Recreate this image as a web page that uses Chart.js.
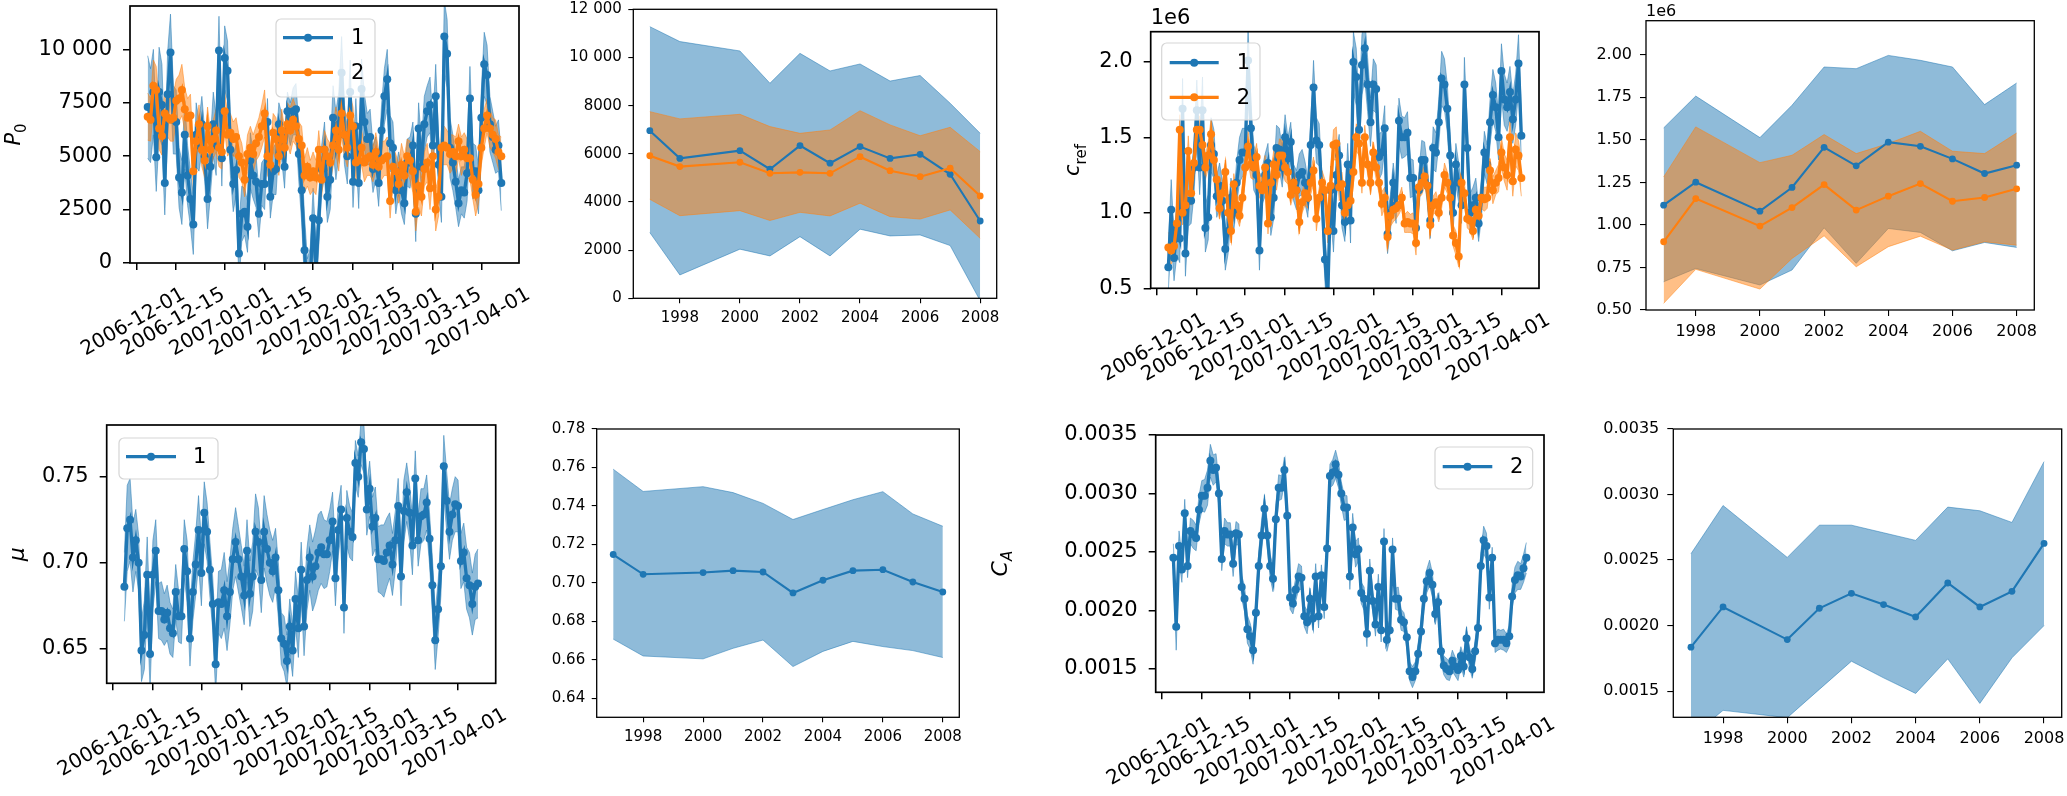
<!DOCTYPE html>
<html><head><meta charset="utf-8">
<script src="https://cdn.jsdelivr.net/npm/chart.js@4.4.1/dist/chart.umd.min.js"></script>
<style>
html,body{margin:0;padding:0;background:#fff;}
body{width:2067px;height:796px;position:relative;overflow:hidden;}
canvas{position:absolute;}
</style></head><body>
<canvas id="c1"></canvas><canvas id="c2"></canvas><canvas id="c3"></canvas><canvas id="c4"></canvas>
<canvas id="c5"></canvas><canvas id="c6"></canvas><canvas id="c7"></canvas><canvas id="c8"></canvas>
<script>
// ---------------- DATA ----------------
const firstDate = '2006-12-05';   // first daily observation
const dateTickLabels = ['2006-12-01','2006-12-15','2007-01-01','2007-01-15','2007-02-01','2007-02-15','2007-03-01','2007-03-15','2007-04-01'];
const years = [1997, 1998, 2000, 2001, 2002, 2003, 2004, 2005, 2006, 2007, 2008];
const yearTicks = [1998, 2000, 2002, 2004, 2006, 2008];

// P0, daily, series 1 and 2
const p0Mean1 = [
7300,6900,8000,4950,8000,7400,3750,7900,9850,6700,
6600,4000,3300,6000,4100,3000,1800,6000,5500,6500,
5000,3000,4500,6500,5500,9950,4900,9600,9000,5300,
3700,4350,450,2300,2400,1700,4800,4100,3800,2300,
3700,3700,6600,3100,4300,4400,6500,5900,4500,7100,
6500,7100,7200,5100,3400,600,-1500,-800,2100,-300,
2000,4400,5300,3100,3900,6800,5500,6500,8900,6000,
5000,8000,3800,6400,3750,8150,6600,5800,5900,4400,
4900,3750,6200,7800,8600,5600,5400,3400,4200,3400,
2800,4700,4700,5500,2300,6300,4500,6500,7100,7400,
5500,7800,4600,3100,10600,9800,5400,4700,3800,2800,
3400,3300,4200,7700,4300,4300,3400,6800,9300,8800,
6500,5900,5300,5500,3750];
const p0Spread1 = [
2400,2200,2000,1600,2100,1900,1500,2000,1800,1600,
1500,1400,1500,1600,1400,1300,1400,1500,1200,1300,
1200,1400,1300,1500,1400,1600,1300,1500,1400,1200,
1300,1200,1400,1300,1100,1200,1300,1100,1200,1100,
1000,1200,1100,1000,1100,1200,1000,1100,1000,900,
1000,1100,1200,1300,1500,1600,1700,1500,1400,1300,
1200,1100,1300,1200,1400,1500,1600,1500,1700,1400,
1300,1500,1200,1300,1200,1400,1300,1200,1300,1100,
1000,1100,1200,1300,1400,1300,1200,1100,1000,1100,
1000,1100,1200,1100,1300,1200,1100,1300,1200,1300,
1200,1500,1300,1200,1700,1600,1400,1300,1200,1100,
1100,1200,1300,1500,1300,1200,1100,1300,1500,1400,
1300,1200,1100,1200,1300];
const p0Mean2 = [
6850,6700,8300,8100,6300,5950,7000,6800,6700,6800,
7600,7700,8100,7200,6800,6900,4300,5700,6500,5300,
4800,6400,5300,5800,6200,5400,5200,7100,6000,6100,
5800,5900,5000,4700,3900,5100,5400,5100,5600,5900,
6400,7000,5000,4600,6100,5800,5000,6200,5400,6500,
6200,6700,6400,5800,5500,4100,4500,4000,4300,4000,
5300,3900,5300,5000,4700,5500,6200,5300,7000,6000,
5400,6900,6400,4700,4800,5400,4700,4900,5000,4600,
5200,4500,4800,4900,5000,2900,4500,4300,3700,4600,
4100,5000,4800,4300,2400,3600,3100,4400,4700,3500,
5000,2500,3100,5400,5500,5400,5100,5200,5000,5700,
5000,5300,4900,4900,3900,3200,3700,5400,6300,6900,
6300,6000,5800,5200,5000];
const p0Spread2 = [
1100,1000,1200,1100,1000,900,1000,900,1000,1100,
1000,1100,1200,1000,900,1000,900,800,900,800,
800,900,800,900,1000,900,800,900,1000,900,
800,900,1000,900,800,900,1000,900,800,900,
1000,1100,900,800,900,1000,900,1000,900,1000,
1100,1000,900,800,900,800,900,800,900,800,
900,800,900,800,900,1000,1100,1000,1100,1000,
900,1000,900,800,900,800,900,800,900,800,
900,800,900,800,900,800,900,800,900,1000,
900,800,900,1000,900,1000,900,800,900,1000,
900,1000,900,800,900,800,900,800,900,800,
900,800,900,1000,900,1000,900,800,900,800,
900,800,900,800,900];

// c_ref (units of 1e6), daily, series 1 and 2
const crefMean1 = [
0.64,1.02,0.70,0.90,0.83,1.69,0.73,1.08,1.08,1.30,
1.68,1.30,1.68,0.90,0.97,1.45,1.39,1.11,1.18,1.08,
0.76,0.88,1.10,1.00,1.20,1.35,1.40,1.40,2.01,1.56,
1.30,1.25,0.75,1.18,1.25,1.33,0.97,1.10,1.43,1.42,
1.30,1.50,1.36,1.47,1.20,1.15,1.25,1.27,1.20,1.10,
1.45,1.83,1.48,1.45,1.10,0.69,0.45,1.15,0.88,1.25,
1.38,1.05,0.94,1.32,0.95,2.00,1.90,1.55,1.98,2.09,
1.85,1.60,1.85,1.82,1.37,1.40,1.56,0.86,1.00,1.20,
1.05,1.61,1.50,1.50,1.53,1.23,1.23,0.90,1.15,1.35,
1.35,1.18,0.95,1.43,1.40,1.60,1.89,1.85,1.69,1.38,
1.00,1.32,1.20,1.05,1.85,1.43,1.00,1.05,1.10,0.93,
1.10,1.40,1.32,1.60,1.78,1.70,1.50,1.94,1.75,1.70,
1.80,1.62,1.75,1.99,1.51];
const crefSpread1 = [
0.15,0.20,0.15,0.18,0.16,0.20,0.15,0.17,0.15,0.18,
0.20,0.18,0.22,0.16,0.15,0.18,0.16,0.14,0.15,0.13,
0.14,0.15,0.13,0.12,0.14,0.15,0.16,0.16,0.22,0.17,
0.15,0.14,0.13,0.12,0.14,0.13,0.12,0.14,0.15,0.14,
0.13,0.15,0.14,0.13,0.12,0.13,0.14,0.15,0.14,0.13,
0.14,0.18,0.15,0.14,0.13,0.15,0.18,0.16,0.14,0.15,
0.14,0.15,0.13,0.14,0.15,0.20,0.19,0.17,0.20,0.21,
0.18,0.16,0.17,0.16,0.15,0.14,0.15,0.13,0.12,0.13,
0.12,0.15,0.14,0.13,0.14,0.13,0.12,0.13,0.12,0.13,
0.12,0.13,0.12,0.14,0.13,0.15,0.18,0.17,0.16,0.14,
0.13,0.14,0.13,0.12,0.18,0.15,0.13,0.12,0.13,0.12,
0.13,0.14,0.13,0.15,0.17,0.16,0.15,0.18,0.17,0.16,
0.17,0.16,0.17,0.19,0.16];
const crefMean2 = [
0.77,0.75,0.78,0.93,1.55,1.00,1.05,1.41,1.13,1.33,
1.55,1.55,1.45,1.30,1.38,1.52,1.35,1.22,1.03,1.13,
1.27,1.00,0.88,1.19,1.05,0.98,1.10,1.30,1.44,1.32,
1.30,1.37,1.18,1.15,1.30,0.93,1.20,1.32,1.25,1.38,
1.38,1.30,1.27,1.12,1.20,1.15,0.94,1.07,1.13,1.10,
1.20,1.28,0.96,1.10,1.20,1.15,0.88,1.18,1.45,1.46,
1.17,1.19,1.00,1.05,1.08,1.27,1.50,1.46,1.20,1.50,
1.32,1.20,1.40,1.30,1.20,1.06,1.10,0.84,0.98,1.02,
1.03,1.05,1.10,0.93,0.94,0.93,0.93,0.80,1.17,1.20,
1.24,1.18,0.92,1.05,1.07,1.00,1.10,1.25,1.20,1.10,
0.85,0.80,0.71,1.20,1.13,0.96,0.95,0.88,1.02,0.98,
1.10,1.09,1.10,1.28,1.15,1.20,1.23,1.40,1.30,1.25,
1.50,1.21,1.42,1.38,1.23];
const crefSpread2 = [
0.10,0.09,0.08,0.09,0.10,0.08,0.09,0.10,0.08,0.09,
0.10,0.09,0.10,0.08,0.09,0.10,0.09,0.08,0.07,0.08,
0.08,0.07,0.08,0.07,0.08,0.07,0.08,0.09,0.10,0.09,
0.08,0.09,0.08,0.07,0.08,0.07,0.08,0.09,0.10,0.11,
0.10,0.09,0.08,0.07,0.08,0.07,0.08,0.07,0.08,0.07,
0.08,0.09,0.08,0.07,0.08,0.07,0.08,0.09,0.10,0.11,
0.09,0.08,0.07,0.08,0.07,0.08,0.09,0.08,0.07,0.08,
0.07,0.08,0.07,0.08,0.07,0.08,0.07,0.08,0.07,0.08,
0.07,0.06,0.07,0.06,0.07,0.06,0.07,0.08,0.07,0.08,
0.07,0.08,0.07,0.06,0.07,0.06,0.07,0.08,0.07,0.08,
0.07,0.08,0.07,0.08,0.07,0.06,0.07,0.06,0.07,0.06,
0.07,0.08,0.07,0.08,0.09,0.08,0.09,0.10,0.09,0.10,
0.11,0.10,0.11,0.10,0.12];

// mu, daily, series 1
const muMean = [
0.686,0.720,0.725,0.703,0.713,0.700,0.649,0.658,0.693,0.647,
0.693,0.707,0.672,0.672,0.667,0.671,0.662,0.659,0.683,0.669,
0.669,0.708,0.695,0.656,0.683,0.699,0.719,0.694,0.729,0.718,
0.696,0.676,0.641,0.677,0.676,0.684,0.669,0.683,0.702,0.712,
0.702,0.692,0.681,0.707,0.682,0.692,0.718,0.712,0.690,0.718,
0.708,0.700,0.695,0.703,0.684,0.656,0.653,0.643,0.663,0.649,
0.679,0.662,0.696,0.663,0.690,0.703,0.692,0.698,0.706,0.709,
0.705,0.705,0.713,0.724,0.691,0.719,0.731,0.674,0.726,0.718,
0.715,0.758,0.750,0.770,0.766,0.731,0.743,0.721,0.726,0.702,
0.702,0.701,0.706,0.710,0.699,0.713,0.733,0.692,0.730,0.741,
0.729,0.710,0.749,0.713,0.727,0.728,0.735,0.714,0.687,0.655,
0.673,0.698,0.756,0.736,0.718,0.728,0.734,0.733,0.701,0.706,
0.691,0.687,0.676,0.686,0.688];
const muSpread = [
0.020,0.025,0.024,0.020,0.018,0.016,0.018,0.020,0.022,0.020,
0.020,0.018,0.016,0.017,0.015,0.016,0.015,0.014,0.016,0.015,
0.016,0.017,0.018,0.016,0.017,0.018,0.020,0.019,0.018,0.017,
0.016,0.015,0.017,0.018,0.020,0.022,0.020,0.019,0.018,0.020,
0.019,0.018,0.017,0.018,0.019,0.020,0.022,0.020,0.019,0.021,
0.020,0.019,0.018,0.017,0.016,0.015,0.016,0.015,0.016,0.015,
0.016,0.017,0.016,0.017,0.018,0.019,0.020,0.021,0.022,0.021,
0.020,0.019,0.018,0.017,0.016,0.015,0.014,0.015,0.016,0.015,
0.014,0.013,0.012,0.013,0.014,0.015,0.016,0.017,0.018,0.019,
0.020,0.021,0.020,0.019,0.018,0.017,0.016,0.017,0.018,0.017,
0.016,0.017,0.016,0.015,0.016,0.015,0.016,0.015,0.016,0.017,
0.016,0.017,0.018,0.017,0.016,0.015,0.016,0.015,0.016,0.017,
0.018,0.019,0.018,0.019,0.020];

// C_A, daily, series 2
const caMean = [
0.00245,0.00186,0.00255,0.00235,0.00283,0.00238,0.00268,0.00265,0.00262,0.00286,
0.00298,0.00298,0.00305,0.00328,0.00320,0.00322,0.00300,0.00244,0.00268,0.00265,
0.00265,0.00240,0.00266,0.00265,0.00220,0.00210,0.00184,0.00178,0.00166,0.00198,
0.00238,0.00264,0.00287,0.00264,0.00238,0.00227,0.00278,0.00305,0.00305,0.00320,
0.00281,0.00211,0.00206,0.00218,0.00229,0.00228,0.00195,0.00190,0.00210,0.00193,
0.00229,0.00195,0.00230,0.00203,0.00253,0.00315,0.00318,0.00325,0.00316,0.00300,
0.00288,0.00288,0.00229,0.00271,0.00248,0.00252,0.00215,0.00210,0.00180,0.00234,
0.00208,0.00188,0.00220,0.00183,0.00259,0.00175,0.00183,0.00252,0.00210,0.00210,
0.00192,0.00190,0.00177,0.00148,0.00143,0.00148,0.00163,0.00182,0.00210,0.00225,
0.00232,0.00222,0.00197,0.00207,0.00165,0.00153,0.00150,0.00148,0.00157,0.00152,
0.00149,0.00161,0.00152,0.00176,0.00160,0.00150,0.00165,0.00185,0.00238,0.00260,
0.00255,0.00211,0.00245,0.00172,0.00175,0.00175,0.00175,0.00172,0.00178,0.00212,
0.00226,0.00230,0.00229,0.00236,0.00245];
const caSpread = [
0.00012,0.00020,0.00013,0.00011,0.00012,0.00010,0.00011,0.00012,0.00011,0.00012,
0.00013,0.00014,0.00015,0.00014,0.00013,0.00012,0.00011,0.00010,0.00011,0.00010,
0.00010,0.00011,0.00010,0.00009,0.00010,0.00011,0.00012,0.00011,0.00012,0.00011,
0.00012,0.00013,0.00012,0.00011,0.00010,0.00011,0.00012,0.00011,0.00010,0.00011,
0.00012,0.00010,0.00009,0.00010,0.00011,0.00010,0.00009,0.00010,0.00009,0.00010,
0.00011,0.00010,0.00009,0.00010,0.00011,0.00010,0.00011,0.00012,0.00011,0.00010,
0.00011,0.00010,0.00011,0.00012,0.00011,0.00010,0.00009,0.00010,0.00011,0.00010,
0.00009,0.00010,0.00011,0.00010,0.00011,0.00010,0.00009,0.00010,0.00009,0.00010,
0.00009,0.00008,0.00009,0.00008,0.00009,0.00008,0.00009,0.00010,0.00011,0.00010,
0.00011,0.00010,0.00009,0.00008,0.00009,0.00008,0.00009,0.00008,0.00009,0.00008,
0.00009,0.00008,0.00009,0.00010,0.00009,0.00008,0.00009,0.00010,0.00011,0.00012,
0.00011,0.00010,0.00009,0.00008,0.00009,0.00008,0.00009,0.00008,0.00009,0.00010,
0.00011,0.00012,0.00011,0.00012,0.00013];

// yearly summaries
const p0YearMean1 = [6960,5810,6130,5360,6340,5610,6300,5810,5980,5150,3210];
const p0YearHi1   = [11280,10660,10270,8930,10170,9440,9730,9020,9250,8100,6850];
const p0YearLo1   = [2730,970,2040,1760,2560,1760,2870,2590,2630,2190,-100];
const p0YearMean2 = [5920,5470,5650,5190,5230,5190,5880,5300,5050,5400,4250];
const p0YearHi2   = [7750,7450,7640,7130,6850,6990,7790,7200,6750,7100,6090];
const p0YearLo2   = [4110,3430,3640,3230,3570,3420,3950,3390,3290,3670,2490];

const crefYearMean1 = [1.116,1.251,1.081,1.220,1.456,1.347,1.486,1.462,1.388,1.302,1.351];
const crefYearHi1   = [1.570,1.757,1.513,1.703,1.928,1.918,1.996,1.967,1.928,1.707,1.834];
const crefYearLo1   = [0.666,0.744,0.647,0.735,0.983,0.774,0.979,0.956,0.848,0.897,0.868];
const crefYearMean2 = [0.901,1.155,0.993,1.102,1.237,1.087,1.169,1.243,1.139,1.161,1.212];
const crefYearHi2   = [1.282,1.576,1.366,1.409,1.531,1.419,1.478,1.550,1.433,1.419,1.540];
const crefYearLo2   = [0.539,0.739,0.623,0.803,0.936,0.754,0.872,0.934,0.852,0.901,0.881];

const muYearMean = [0.7147,0.7044,0.7053,0.7063,0.7056,0.6947,0.7013,0.7063,0.7068,0.7004,0.6952];
const muYearHi   = [0.7591,0.7475,0.7500,0.7469,0.7413,0.7329,0.7381,0.7432,0.7474,0.7358,0.7294];
const muYearLo   = [0.6707,0.6619,0.6604,0.6659,0.6702,0.6564,0.6643,0.6695,0.6668,0.6647,0.6611];

const caYearMean = [0.001835,0.002142,0.001893,0.002132,0.002246,0.002160,0.002066,0.002325,0.002142,0.002261,0.002627];
const caYearHi   = [0.002548,0.002916,0.002520,0.002766,0.002766,0.002708,0.002650,0.002904,0.002876,0.002787,0.003251];
const caYearLo   = [0.00115,0.001353,0.001297,0.001513,0.001728,0.001601,0.001482,0.001746,0.001406,0.001754,0.002000];

// y tick values
const p0DailyYTicks = [0, 2500, 5000, 7500, 10000];
const p0YearYTicks = [0, 2000, 4000, 6000, 8000, 10000, 12000];
const crefDailyYTicks = [0.5, 1.0, 1.5, 2.0];
const crefYearYTicks = [0.5, 0.75, 1.0, 1.25, 1.5, 1.75, 2.0];
const muDailyYTicks = [0.65, 0.70, 0.75];
const muYearYTicks = [0.64, 0.66, 0.68, 0.70, 0.72, 0.74, 0.76, 0.78];
const caYTicks = [0.0015, 0.0020, 0.0025, 0.0030, 0.0035];

// ---------------- BUILD ----------------
const FONT = "'DejaVu Sans', sans-serif";
const BLUE = '#1f77b4', ORANGE = '#ff7f0e';
const BLUE_BAND = 'rgba(31,119,180,0.5)', ORANGE_BAND = 'rgba(255,127,14,0.5)';

const refDay = Date.UTC(2006, 11, 1);
function dayOf(s) { const [y, m, d] = s.split('-').map(Number); return (Date.UTC(y, m - 1, d) - refDay) / 86400000; }
const day0 = dayOf(firstDate);
const tsDays = p0Mean1.map((_, i) => day0 + i);
const dateTickDays = dateTickLabels.map(dayOf);

const sub = (a, b) => a.map((v, i) => v - b[i]);
const add = (a, b) => a.map((v, i) => v + b[i]);
function tsSeries(mean, spread, color, band, label) {
  return { x: tsDays, mean, lo: sub(mean, spread), hi: add(mean, spread), color, band, label };
}
function yrSeries(mean, lo, hi, color, band, label) {
  return { x: years, mean, lo, hi, color, band, label };
}
function thousands(v) { const s = String(Math.round(v)); return s.length > 4 ? s.slice(0, s.length - 3) + ' ' + s.slice(-3) : s; }

const BIG = { tick: 21, xtick: 20, tickLen: 7, tickPad: 11, tickW: 1.5, frame: 1.7, line: 3.3, radius: 4.0, xGap: 22 };
const SM15 = { tick: 15, tickLen: 5, tickPad: 6.5, tickW: 1.1, frame: 1.3, line: 2.1, radius: 3.4 };
const SM16 = { tick: 16, tickLen: 6, tickPad: 8, tickW: 1.1, frame: 1.3, line: 2.1, radius: 3.4 };
const TS_X = [-2.2, 134.2], YR_X = [1996.45, 2008.55];

const panels = [
  { id: 'c1', rect: { x: 0, y: 0, w: 575, h: 400 }, area: { l: 130, t: 6, r: 519, b: 263 }, kind: 'ts', style: BIG,
    yMin: 0, yMax: 12030, yTicks: p0DailyYTicks, yFmt: thousands,
    series: [tsSeries(p0Mean1, p0Spread1, BLUE, BLUE_BAND, '1'), tsSeries(p0Mean2, p0Spread2, ORANGE, ORANGE_BAND, '2')],
    ytitle: { parts: [{ t: 'P', it: true, s: 21 }, { t: '0', s: 15, dy: 6 }], dx: 110 },
    legend: { anchor: 'left', dx: 146, dy: 13, w: 99, h: 78, row0: 18.7, rowH: 34.6, h0: 7, h1: 57, tx: 75, font: 21 } },
  { id: 'c2', rect: { x: 540, y: 0, w: 490, h: 360 }, area: { l: 633.3, t: 9.3, r: 996.7, b: 298.3 }, kind: 'yr', style: SM15,
    yMin: 0, yMax: 12000, yTicks: p0YearYTicks, yFmt: thousands,
    series: [yrSeries(p0YearMean1, p0YearLo1, p0YearHi1, BLUE, BLUE_BAND, '1'), yrSeries(p0YearMean2, p0YearLo2, p0YearHi2, ORANGE, ORANGE_BAND, '2')] },
  { id: 'c3', rect: { x: 1040, y: 0, w: 560, h: 400 }, area: { l: 1150.7, t: 31.7, r: 1539, b: 288.3 }, kind: 'ts', style: BIG,
    yMin: 0.5, yMax: 2.2, yTicks: crefDailyYTicks, yFmt: v => v.toFixed(1),
    series: [tsSeries(crefMean1, crefSpread1, BLUE, BLUE_BAND, '1'), tsSeries(crefMean2, crefSpread2, ORANGE, ORANGE_BAND, '2')],
    ytitle: { parts: [{ t: 'c', it: true, s: 21 }, { t: 'ref', s: 15, dy: 7 }], dx: 72 },
    offsetText: { t: '1e6', s: 21, dy: 8 },
    legend: { anchor: 'left', dx: 11, dy: 11.3, w: 98.3, h: 77, row0: 19.7, rowH: 34.6, h0: 8, h1: 57, tx: 75, font: 21 } },
  { id: 'c4', rect: { x: 1575, y: 0, w: 492, h: 370 }, area: { l: 1646, t: 20.7, r: 2034.3, b: 310 }, kind: 'yr', style: SM16,
    yMin: 0.5, yMax: 2.2, yTicks: crefYearYTicks, yFmt: v => v.toFixed(2),
    series: [yrSeries(crefYearMean1, crefYearLo1, crefYearHi1, BLUE, BLUE_BAND, '1'), yrSeries(crefYearMean2, crefYearLo2, crefYearHi2, ORANGE, ORANGE_BAND, '2')],
    offsetText: { t: '1e6', s: 16, dy: 5 } },
  { id: 'c5', rect: { x: 0, y: 400, w: 560, h: 396 }, area: { l: 106.7, t: 425, r: 495.7, b: 683.3 }, kind: 'ts', style: BIG,
    yMin: 0.63, yMax: 0.78, yTicks: muDailyYTicks, yFmt: v => v.toFixed(2),
    series: [tsSeries(muMean, muSpread, BLUE, BLUE_BAND, '1')],
    ytitle: { parts: [{ t: 'μ', it: true, s: 22 }], dx: 83 },
    legend: { anchor: 'left', dx: 12.3, dy: 13, w: 99, h: 41, row0: 18.7, rowH: 34.6, h0: 7, h1: 57, tx: 74, font: 21 } },
  { id: 'c6', rect: { x: 520, y: 400, w: 470, h: 396 }, area: { l: 596.7, t: 429, r: 959.3, b: 717.3 }, kind: 'yr', style: SM15,
    yMin: 0.63, yMax: 0.78, yTicks: muYearYTicks, yFmt: v => v.toFixed(2),
    series: [yrSeries(muYearMean, muYearLo, muYearHi, BLUE, BLUE_BAND, '1')] },
  { id: 'c7', rect: { x: 980, y: 400, w: 600, h: 396 }, area: { l: 1155.7, t: 435, r: 1544, b: 692.3 }, kind: 'ts', style: BIG,
    yMin: 0.0013, yMax: 0.0035, yTicks: caYTicks, yFmt: v => v.toFixed(4),
    series: [tsSeries(caMean, caSpread, BLUE, BLUE_BAND, '2')],
    ytitle: { parts: [{ t: 'C', it: true, s: 22 }, { t: 'A', it: true, s: 15, dy: 5 }], dx: 149 },
    legend: { anchor: 'right', dx: 109, dy: 12, w: 97.7, h: 42, row0: 19.7, rowH: 34.6, h0: 7.7, h1: 57.3, tx: 75, font: 21 } },
  { id: 'c8', rect: { x: 1590, y: 400, w: 477, h: 396 }, area: { l: 1673.3, t: 429, r: 2061.7, b: 717.3 }, kind: 'yr', style: SM16,
    yMin: 0.0013, yMax: 0.0035, yTicks: caYTicks, yFmt: v => v.toFixed(4),
    series: [yrSeries(caYearMean, caYearLo, caYearHi, BLUE, BLUE_BAND, '1')] }
];

function decor(p) {
  return {
    id: 'decor_' + p.id,
    afterDraw(chart) {
      const ctx = chart.ctx, ca = chart.chartArea, st = p.style;
      ctx.save();
      // axes frame (spines)
      ctx.strokeStyle = '#000'; ctx.lineWidth = st.frame;
      ctx.strokeRect(ca.left, ca.top, ca.right - ca.left, ca.bottom - ca.top);
      // rotated date tick labels (centred on the tick)
      if (p.kind === 'ts') {
        const xs = chart.scales.x;
        ctx.font = st.xtick + 'px ' + FONT; ctx.fillStyle = '#000';
        ctx.textAlign = 'center'; ctx.textBaseline = 'middle';
        dateTickDays.forEach((v, i) => {
          const label = dateTickLabels[i];
          const px = xs.getPixelForValue(v);
          const w = ctx.measureText(label).width, h = st.xtick * 0.95;
          const bh = w * 0.5 + h * 0.866;
          ctx.save(); ctx.translate(px - 3, ca.bottom + st.xGap + bh / 2); ctx.rotate(-Math.PI / 6);
          ctx.fillText(label, 0, 0); ctx.restore();
        });
      }
      // offset text
      if (p.offsetText) {
        ctx.font = p.offsetText.s + 'px ' + FONT; ctx.fillStyle = '#000';
        ctx.textAlign = 'left'; ctx.textBaseline = 'alphabetic';
        ctx.fillText(p.offsetText.t, ca.left, ca.top - p.offsetText.dy);
      }
      // y title
      if (p.ytitle) {
        const parts = p.ytitle.parts;
        const fontOf = q => (q.it ? 'italic ' : '') + q.s + 'px ' + FONT;
        ctx.save();
        ctx.translate(ca.left - p.ytitle.dx, (ca.top + ca.bottom) / 2);
        ctx.rotate(-Math.PI / 2);
        ctx.textAlign = 'left'; ctx.textBaseline = 'alphabetic'; ctx.fillStyle = '#000';
        const widths = parts.map(q => { ctx.font = fontOf(q); return ctx.measureText(q.t).width; });
        let u = -widths.reduce((a, b) => a + b, 0) / 2;
        parts.forEach((q, i) => { ctx.font = fontOf(q); ctx.fillText(q.t, u, q.dy || 0); u += widths[i]; });
        ctx.restore();
      }
      // legend
      if (p.legend) {
        const L = p.legend;
        const lx = L.anchor === 'right' ? ca.right - L.dx : ca.left + L.dx;
        const ly = ca.top + L.dy;
        ctx.fillStyle = 'rgba(255,255,255,0.8)'; ctx.strokeStyle = '#d5d5d5'; ctx.lineWidth = 1.2;
        ctx.beginPath();
        if (ctx.roundRect) ctx.roundRect(lx, ly, L.w, L.h, 5); else ctx.rect(lx, ly, L.w, L.h);
        ctx.fill(); ctx.stroke();
        p.series.forEach((s, j) => {
          const yy = ly + L.row0 + j * L.rowH;
          ctx.strokeStyle = s.color; ctx.lineWidth = st.line;
          ctx.beginPath(); ctx.moveTo(lx + L.h0, yy); ctx.lineTo(lx + L.h1, yy); ctx.stroke();
          ctx.fillStyle = s.color; ctx.beginPath(); ctx.arc(lx + (L.h0 + L.h1) / 2, yy, st.radius, 0, Math.PI * 2); ctx.fill();
          ctx.fillStyle = '#000'; ctx.font = L.font + 'px ' + FONT; ctx.textAlign = 'left'; ctx.textBaseline = 'middle';
          ctx.fillText(s.label, lx + L.tx, yy + 1);
        });
      }
      ctx.restore();
    }
  };
}

function buildPanel(p) {
  const cv = document.getElementById(p.id);
  cv.width = p.rect.w; cv.height = p.rect.h;
  cv.style.left = p.rect.x + 'px'; cv.style.top = p.rect.y + 'px';
  cv.style.width = p.rect.w + 'px'; cv.style.height = p.rect.h + 'px';
  const padTop = p.area.t - p.rect.y, padRight = p.rect.x + p.rect.w - p.area.r;
  const yW = p.area.l - p.rect.x, xH = p.rect.y + p.rect.h - p.area.b;
  const st = p.style;
  const datasets = [];
  p.series.forEach((s, k) => {
    const n = Math.min(s.x.length, s.mean.length);
    datasets.push({ data: s.x.slice(0, n).map((x, i) => ({ x, y: s.hi[i] })), borderColor: s.band, borderWidth: 1,
      pointRadius: 0, fill: false, order: 100 - k });
    datasets.push({ data: s.x.slice(0, n).map((x, i) => ({ x, y: s.lo[i] })), borderColor: s.band, backgroundColor: s.band,
      borderWidth: 1, pointRadius: 0, fill: '-1', order: 100 - k });
  });
  p.series.forEach((s, k) => {
    const n = Math.min(s.x.length, s.mean.length);
    datasets.push({ data: s.x.slice(0, n).map((x, i) => ({ x, y: s.mean[i] })), borderColor: s.color, backgroundColor: s.color,
      borderWidth: st.line, pointRadius: st.radius, pointBackgroundColor: s.color, pointBorderWidth: 0, fill: false, order: 50 - k });
  });
  const xr = p.kind === 'ts' ? TS_X : YR_X;
  const xTicks = p.kind === 'ts' ? dateTickDays : yearTicks;
  new Chart(cv, {
    type: 'line',
    data: { datasets },
    options: {
      responsive: false, maintainAspectRatio: false, animation: false, devicePixelRatio: 1, events: [],
      layout: { padding: { top: padTop, right: padRight, left: 0, bottom: 0 } },
      elements: { line: { tension: 0 } },
      plugins: { legend: { display: false }, tooltip: { enabled: false }, title: { display: false } },
      scales: {
        x: {
          type: 'linear', position: 'bottom', min: xr[0], max: xr[1], bounds: 'data',
          border: { display: false },
          grid: { drawOnChartArea: false, drawTicks: true, tickLength: st.tickLen, color: '#000', lineWidth: st.tickW },
          ticks: p.kind === 'ts' ? { display: false } :
            { display: true, color: '#000', font: { family: FONT, size: st.tick }, padding: 6, maxRotation: 0, minRotation: 0,
              autoSkip: false, callback: v => String(v) },
          afterBuildTicks: s => { s.ticks = xTicks.map(v => ({ value: v })); },
          afterFit: s => { s.height = xH; s.paddingLeft = 0; s.paddingRight = 0; }
        },
        y: {
          type: 'linear', position: 'left', min: p.yMin, max: p.yMax, bounds: 'data',
          border: { display: false },
          grid: { drawOnChartArea: false, drawTicks: true, tickLength: st.tickLen, color: '#000', lineWidth: st.tickW },
          ticks: { color: '#000', font: { family: FONT, size: st.tick }, padding: st.tickPad, autoSkip: false, callback: v => p.yFmt(v) },
          afterBuildTicks: s => { s.ticks = p.yTicks.map(v => ({ value: v })); },
          afterFit: s => { s.width = yW; s.paddingTop = 0; s.paddingBottom = 0; }
        }
      }
    },
    plugins: [decor(p)]
  });
}
panels.forEach(buildPanel);
</script>
</body></html>
